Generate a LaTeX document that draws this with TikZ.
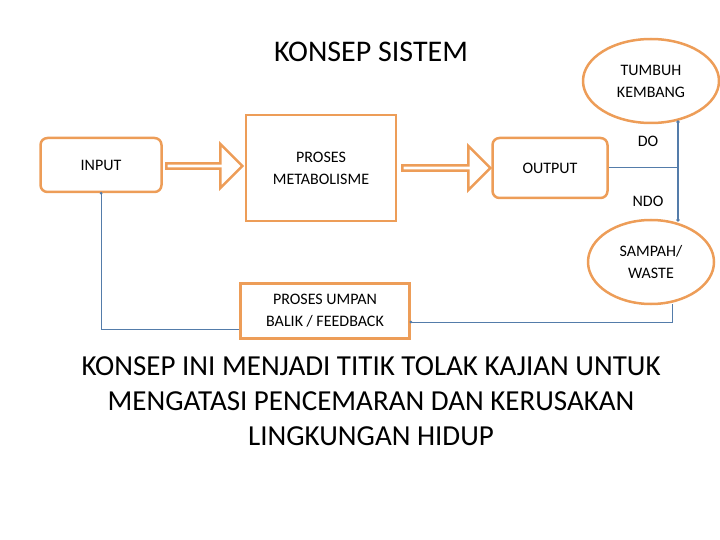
\documentclass[tikz,border=0pt]{standalone}
\usepackage{fontspec}
\setmainfont{Carlito}
\usetikzlibrary{shapes.geometric,shapes.arrows,positioning}
\definecolor{boxorange}{RGB}{237,157,88}
\definecolor{lineblue}{RGB}{84,124,170}

\begin{document}
\begin{tikzpicture}[x=1pt,y=-1pt,
  roundbox/.style={draw=boxorange,line width=2.5pt,rounded corners=7pt,font=\fontsize{16}{19}\selectfont},
  squarebox/.style={draw=boxorange,line width=2.5pt,align=center,font=\fontsize{16}{22}\selectfont},
  oval/.style={ellipse,draw=boxorange,line width=2.5pt,align=center,font=\fontsize{16}{22}\selectfont},
  hollow/.style={single arrow,draw=boxorange,line width=2.5pt,single arrow head extend=9pt,minimum height=76pt,minimum width=44pt,inner sep=0pt},
  link/.style={draw=lineblue,line width=1pt}]
  \useasboundingbox (0,0) rectangle (720,540);
  \node (title) at (371,52) {\fontsize{30}{34}\selectfont KONSEP SISTEM};
  \node[roundbox,minimum width=121pt,minimum height=54pt]  (input)   at (101,165) {INPUT};
  \node[hollow]                                          (arr1)    at (203,166) {};
  \node[squarebox,minimum width=150pt,minimum height=106pt] (proses) at (321,168) {PROSES\\METABOLISME};
  \node[hollow,minimum height=88pt]                      (arr2)    at (445,168) {};
  \node[roundbox,minimum width=115pt,minimum height=60pt]  (output)  at (550,168) {OUTPUT};
  \node[oval,minimum width=136pt,minimum height=84pt,inner sep=0pt] (tumbuh)  at (651,81)  {TUMBUH\\KEMBANG};
  \node[oval,minimum width=126pt,minimum height=84pt,inner sep=0pt] (sampah)  at (651,262) {SAMPAH/\\WASTE};
  \node[squarebox,minimum width=169pt,minimum height=55pt] (umpan)  at (325,311) {PROSES UMPAN\\BALIK / FEEDBACK};
  \node[font=\fontsize{16}{19}\selectfont] (do)  at (648,141) {DO};
  \node[font=\fontsize{16}{19}\selectfont] (ndo) at (648,201) {NDO};
  \coordinate (top) at (678,122);
  \coordinate (bot) at (678,220);
  \path[link,line width=1.5pt] (top) -- (bot);
  \fill[lineblue] (top) circle (1.8pt) (bot) circle (1.8pt);
  \path[link] (output.east) -- (output.east -| top);
  \path[link] (672,304) -- (672,322) -- (umpan.east |- 0,322);
  \fill[lineblue] (umpan.east |- 0,322) circle (1.5pt);
  \path[link] (umpan.west |- 0,329) -- (101,329) -- (input.south);
  \fill[lineblue] (input.south) circle (1.5pt);
  \node[align=center,font=\fontsize{29}{35}\selectfont] (note) at (371,401)
    {KONSEP INI MENJADI TITIK TOLAK KAJIAN UNTUK\\MENGATASI PENCEMARAN DAN KERUSAKAN\\LINGKUNGAN HIDUP};
\end{tikzpicture}
\end{document}
